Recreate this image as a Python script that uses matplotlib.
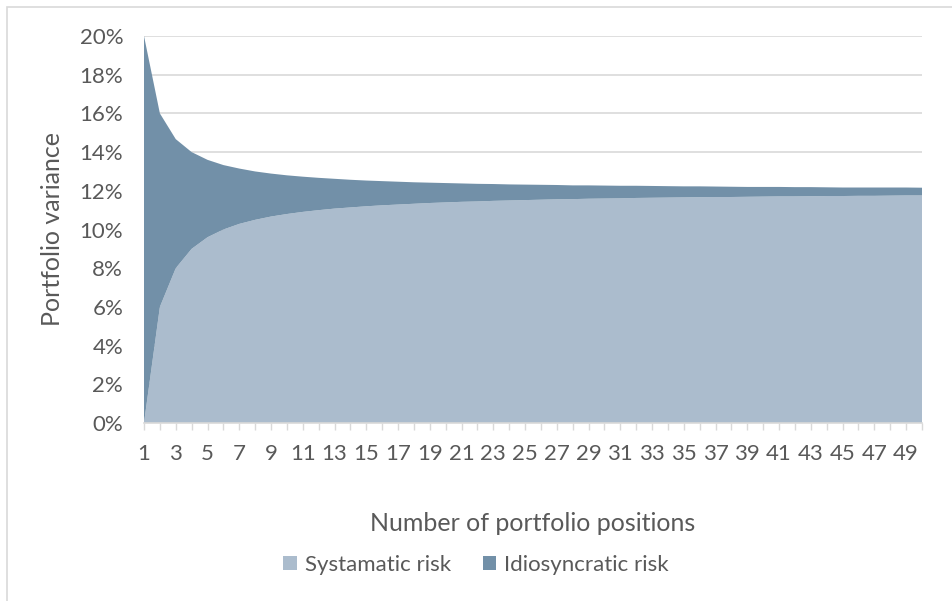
import matplotlib.pyplot as plt
from matplotlib.patches import Rectangle
from matplotlib.ticker import PercentFormatter

# number of positions held in the portfolio
positions = list(range(1, 51))

# variance split (in %) for each portfolio size
systematic = [0.00, 6.00, 8.00, 9.00, 9.60, 10.00, 10.29, 10.50, 10.67, 10.80,
              10.91, 11.00, 11.08, 11.14, 11.20, 11.25, 11.29, 11.33, 11.37, 11.40,
              11.43, 11.45, 11.48, 11.50, 11.52, 11.54, 11.56, 11.57, 11.59, 11.60,
              11.61, 11.63, 11.64, 11.65, 11.66, 11.67, 11.68, 11.68, 11.69, 11.70,
              11.71, 11.71, 11.72, 11.73, 11.73, 11.74, 11.74, 11.75, 11.76, 11.76]
idiosyncratic = [20.00, 10.00, 6.67, 5.00, 4.00, 3.33, 2.86, 2.50, 2.22, 2.00,
                 1.82, 1.67, 1.54, 1.43, 1.33, 1.25, 1.18, 1.11, 1.05, 1.00,
                 0.95, 0.91, 0.87, 0.83, 0.80, 0.77, 0.74, 0.71, 0.69, 0.67,
                 0.65, 0.63, 0.61, 0.59, 0.57, 0.56, 0.54, 0.53, 0.51, 0.50,
                 0.49, 0.48, 0.47, 0.45, 0.44, 0.43, 0.43, 0.42, 0.41, 0.40]
series_names = ['Systamatic risk', 'Idiosyncratic risk']
colors = ['#abbccd', '#7290a8']

plt.rcParams['font.family'] = ['Lato', 'DejaVu Sans']
text_col = '#595959'
grid_col = '#d9d9d9'

fig = plt.figure(figsize=(9.52, 6.01), dpi=100)
fig.patches.append(Rectangle((7 / 952, -0.1), 1.2, 1 - 7 / 601 + 0.1,
                             transform=fig.transFigure, fill=False,
                             edgecolor=grid_col, linewidth=1.2))

ax = fig.add_axes([144 / 952, 1 - 423 / 601, (922 - 144) / 952, (423 - 36) / 601])
ax.stackplot(positions, systematic, idiosyncratic, colors=colors,
             labels=series_names, linewidth=0, zorder=2)

ax.set_xlim(1, 50)
ax.set_ylim(0, 20)
ax.set_yticks(range(0, 21, 2))
ax.yaxis.set_major_formatter(PercentFormatter(decimals=0))
ax.set_xticks(positions)
ax.set_xticklabels([str(p) if p % 2 == 1 else '' for p in positions])

ax.grid(axis='y', color=grid_col, linewidth=1.2, zorder=0)
ax.set_axisbelow(True)
for side in ['top', 'right', 'left']:
    ax.spines[side].set_visible(False)
ax.spines['bottom'].set_color(grid_col)
ax.spines['bottom'].set_linewidth(1.2)
ax.spines['bottom'].set_zorder(3)

ax.tick_params(axis='y', length=0, pad=15, labelsize=16, labelcolor=text_col)
ax.tick_params(axis='x', length=5, width=1, color=grid_col, pad=10,
               labelsize=16, labelcolor=text_col)

ax.set_xlabel('Number of portfolio positions', fontsize=18, color=text_col, labelpad=35)
ax.set_ylabel('Portfolio variance', fontsize=18, color=text_col, labelpad=11)

fig.legend(loc='center', bbox_to_anchor=(0.5, 1 - 565 / 601), ncol=2,
           frameon=False, fontsize=16, labelcolor=text_col,
           handlelength=0.6, handleheight=0.6, handletextpad=0.35,
           columnspacing=1.45)

fig.savefig('out.png', dpi=100)
